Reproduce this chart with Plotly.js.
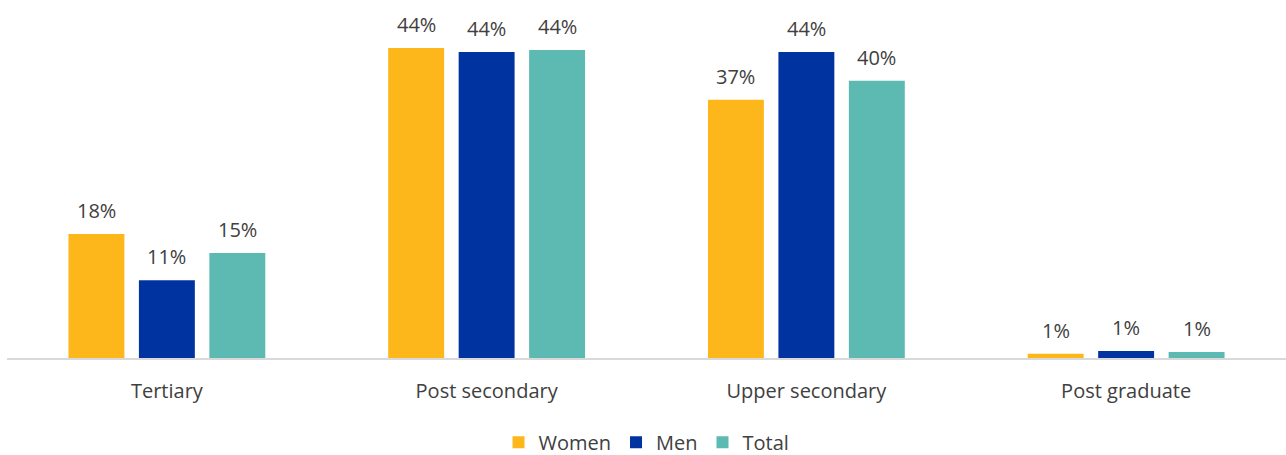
<!DOCTYPE html>
<html>
<head>
<meta charset="utf-8">
<script src="https://cdn.plot.ly/plotly-3.0.1.min.js"></script>
<style>html,body{margin:0;padding:0;background:#fff;}#chart{width:1286px;height:455px;}</style>
</head>
<body>
<div id="chart"></div>
<script>
const categories = ["Tertiary", "Post secondary", "Upper secondary", "Post graduate"];
const women = [17.7, 44.3, 36.9, 0.6];
const men = [11.1, 43.7, 43.7, 1.0];
const total = [15.0, 44.0, 39.6, 0.85];
const seriesNames = ["Women", "Men", "Total"];
const colors = ["#FDB71A", "#0033A0", "#5DBAB3"];
const seriesVals = [women, men, total];

const fontFam = "'Open Sans', 'Noto Sans', sans-serif";
const traces = seriesVals.map((vals, i) => ({
  type: "bar",
  name: seriesNames[i],
  x: categories,
  y: vals,
  marker: {color: colors[i]},
  hoverinfo: "skip"
}));

const annotations = [];
seriesVals.forEach((vals, i) => {
  vals.forEach((v, j) => {
    annotations.push({
      x: categories[j], y: v, xref: "x", yref: "y",
      text: Math.round(v) + "%",
      showarrow: false, xanchor: "center", yanchor: "bottom",
      xshift: (i - 1) * 70.5, yshift: 8,
      font: {family: fontFam, size: 20, color: "#404040"}
    });
  });
});

const layout = {
  width: 1286, height: 455,
  margin: {l: 7, r: 0, t: 8, b: 97},
  paper_bgcolor: "#fff", plot_bgcolor: "#fff",
  barmode: "group",
  bargap: 0.339,
  bargroupgap: 0.206,
  font: {family: fontFam, color: "#404040", size: 20},
  annotations: annotations,
  xaxis: {
    showline: true, linecolor: "#d9d9d9", linewidth: 1.5,
    ticks: "", ticklabelstandoff: 14, automargin: false,
    tickfont: {family: fontFam, size: 20, color: "#404040"},
    showgrid: false, zeroline: false
  },
  yaxis: {
    range: [0, 50], visible: false, showgrid: false, zeroline: false, automargin: false
  },
  showlegend: true,
  legend: {
    orientation: "h", x: 0.5, xanchor: "center",
    yref: "container", y: 0.028, yanchor: "middle",
    font: {family: fontFam, size: 20, color: "#404040"},
    itemwidth: 30, traceorder: "normal"
  }
};

Plotly.newPlot("chart", traces, layout, {staticPlot: true, displayModeBar: false});
</script>
</body>
</html>
